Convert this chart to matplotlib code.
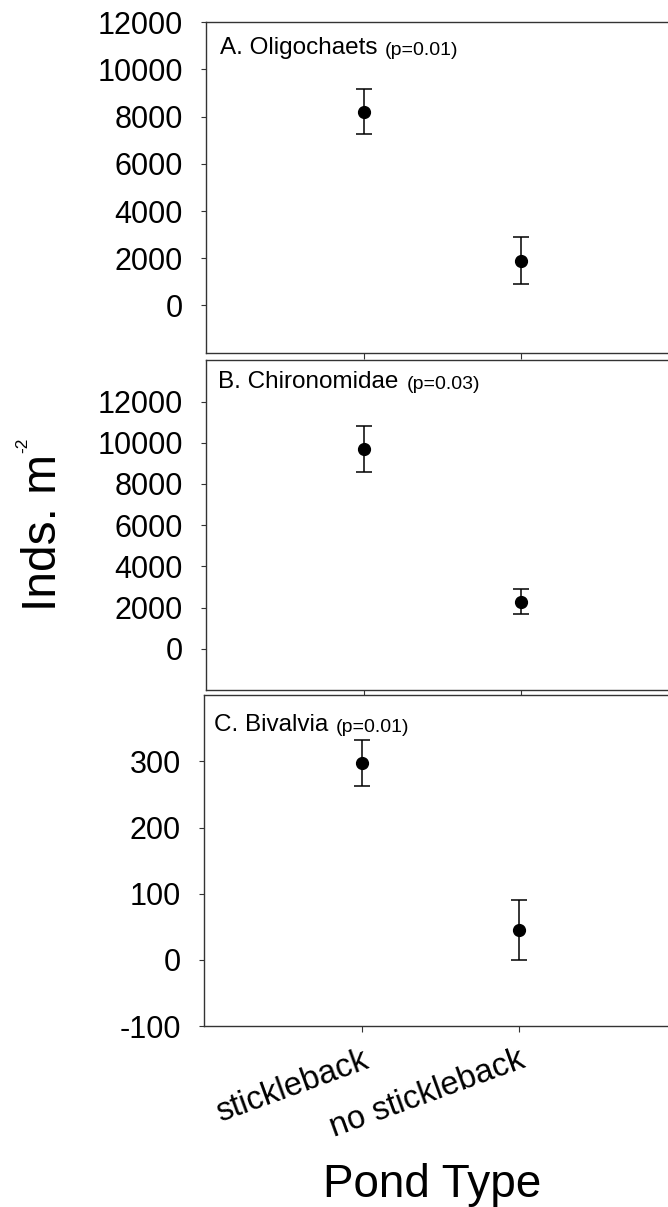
import matplotlib
matplotlib.use('Agg')
import matplotlib.pyplot as plt
import numpy as np

plt.rcParams['font.family'] = ['Liberation Sans', 'DejaVu Sans']
plt.rcParams['axes.unicode_minus'] = False

# pond types and group means / error bars
pond_types = ['stickleback', 'no stickleback']

oligo_mean = [8220, 1900]
oligo_err = [950, 1010]

chiro_mean = [9700, 2280]
chiro_err = [1120, 610]

biv_mean = [298, 45]
biv_err = [35, 45]

titles = ['A. Oligochaets', 'B. Chironomidae', 'C. Bivalvia']
pvals = ['(p=0.01)', '(p=0.03)', '(p=0.01)']

W, H = 668, 1207
fig = plt.figure(figsize=(W / 100, H / 100), dpi=100)

def px_axes(left, top, right, bottom):
    return fig.add_axes([left / W, 1 - bottom / H, (right - left) / W, (bottom - top) / H])

axA = px_axes(206.3, 22.3, 678, 352.7)
axB = px_axes(206.3, 360.3, 678, 690)
axC = px_axes(204.3, 695.3, 676, 1026)

panels = [
    (axA, oligo_mean, oligo_err, (-2000, 12000), np.arange(0, 12001, 2000), (13.7, 32)),
    (axB, chiro_mean, chiro_err, (-2000, 14000), np.arange(0, 12001, 2000), (12, 28)),
    (axC, biv_mean, biv_err, (-100, 400), np.arange(-100, 301, 100), (10, 35.7)),
]

x = np.arange(1, len(pond_types) + 1)

for i, (ax, m, e, ylim, yt, toff) in enumerate(panels):
    ax.errorbar(x, m, yerr=e, fmt='o', color='black', ms=8.5, capsize=6,
                elinewidth=1.1, capthick=1.1)
    ax.set_xlim(0, 3)
    ax.set_ylim(*ylim)
    ax.set_yticks(yt)
    ax.set_xticks(x)
    for s in ax.spines.values():
        s.set_color('#333333')
        s.set_linewidth(1.0)
    ax.tick_params(axis='y', direction='out', length=3.4, width=0.8,
                   labelsize=22, pad=13.3, color='#333333')
    ax.tick_params(axis='x', direction='out', length=4, width=0.8,
                   color='#333333', labelbottom=(ax is axC))
    # panel label, with the smaller p value after it
    t1 = ax.annotate(titles[i], xy=(0, 1), xycoords='axes fraction',
                     xytext=(toff[0] * 0.72, -toff[1] * 0.72), textcoords='offset points',
                     ha='left', va='baseline', fontsize=17.5)
    ax.annotate(pvals[i], xy=(1, 0), xycoords=t1, xytext=(5.5, 0),
                textcoords='offset points', ha='left', va='bottom', fontsize=14)

axC.set_xticklabels(pond_types, fontsize=23.5, rotation=20, ha='right',
                    va='top', rotation_mode='anchor')
axC.tick_params(axis='x', pad=9.5)

# y label: "Inds. m" with a raised "-2" after it
ylab = fig.text(55.5 / W, 1 - 611 / H, 'Inds. m', rotation=90, fontsize=34.5,
                ha='left', va='baseline', rotation_mode='anchor')
fig.canvas.draw()
top = ylab.get_window_extent().y1
fig.text(27.5 / W, (top + 1) / H, '-2', rotation=90, fontsize=12.5,
         ha='left', va='baseline', rotation_mode='anchor')

fig.text(432 / W, 1 - 1197 / H, 'Pond Type', fontsize=33, ha='center', va='baseline')

fig.savefig('out.png', dpi=100)
